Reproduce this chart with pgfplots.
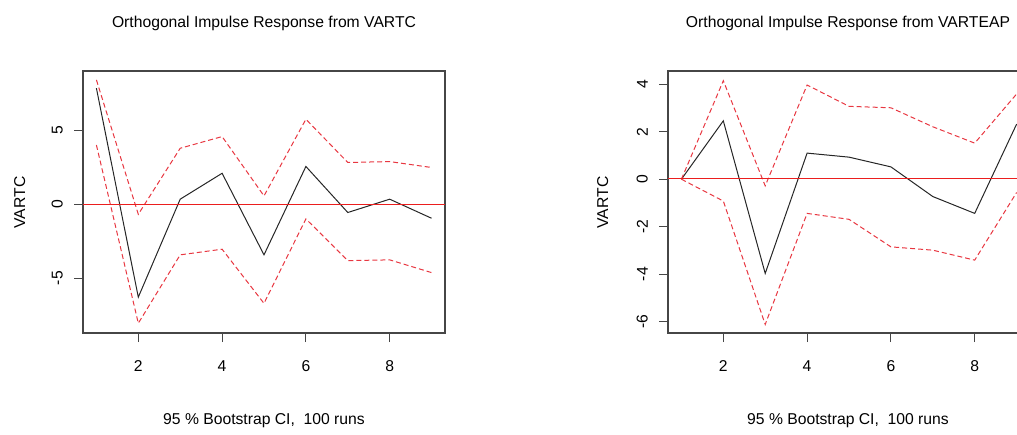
\documentclass[border=0pt]{standalone}
\usepackage{pgfplots}
\pgfplotsset{compat=1.18}
\usepackage{fontspec}
\setmainfont{Liberation Sans}
\definecolor{cired}{RGB}{232,55,65}
\definecolor{zred}{RGB}{235,30,30}
\definecolor{boxgray}{RGB}{70,70,70}
\newcommand{\rfont}{\fontsize{15.7}{18.8}\selectfont}

\pgfplotstableread{
x  irf    lo     hi
1  7.84   4.00   8.40
2 -6.28  -8.04  -0.68
3  0.34  -3.42   3.78
4  2.09  -3.04   4.57
5 -3.42  -6.70   0.56
6  2.55  -0.99   5.74
7 -0.56  -3.81   2.82
8  0.34  -3.76   2.88
9 -0.95  -4.62   2.48
}\leftdata

\pgfplotstableread{
x  irf    lo     hi
1  0.00   0.00   0.00
2  2.46  -0.92   4.15
3 -3.97  -6.12  -0.28
4  1.10  -1.44   3.97
5  0.93  -1.69   3.07
6  0.52  -2.85   3.01
7 -0.73  -2.99   2.21
8 -1.44  -3.41   1.52
9  2.32  -0.56   3.59
}\rightdata

\pgfplotsset{
  irf/.style={
    scale only axis, width=362pt, height=262pt,
    anchor=south west,
    xmin=0.68, xmax=9.32,
    xtick={2,4,6,8}, xticklabels={2,4,6,8},
    tick align=outside, major tick length=9pt,
    xtick pos=bottom, ytick pos=left,
    axis line style={boxgray, line width=1.1pt},
    every tick/.style={boxgray, line width=1.1pt},
    /pgf/number format/assume math mode=true,
    font=\rfont,
    xticklabel style={anchor=north, inner sep=0pt},
    xticklabel shift=18pt,
    yticklabel style={rotate=90, anchor=south, inner sep=0pt},
    yticklabel shift=11pt,
    clip=false,
  },
  irfline/.style={black!85, line width=1pt},
  ciline/.style={cired, line width=1pt, dash pattern=on 5pt off 3pt},
  zeroline/.style={draw=zred, line width=1.1pt, forget plot},
}

\begin{document}
\rfont
\begin{tikzpicture}[x=1pt,y=1pt]
\useasboundingbox (0,0) rectangle (1017,434);

% titles
\node[anchor=base, inner sep=0pt] at (264,406) {Orthogonal Impulse Response from VARTC};
\node[anchor=base, inner sep=0pt] at (848,406) {Orthogonal Impulse Response from VARTEAP};
% y labels
\node[anchor=base, rotate=90, inner sep=0pt] at (25,231.5) {VARTC};
\node[anchor=base, rotate=90, inner sep=0pt] at (608,231.5) {VARTC};
% x labels
\node[anchor=base, inner sep=0pt] at (264,10) {95 \% Bootstrap CI,\ \ 100 runs};
\node[anchor=base, inner sep=0pt] at (848,10) {95 \% Bootstrap CI,\ \ 100 runs};

% left panel
\begin{axis}[irf, at={(83pt,101pt)},
  ymin=-8.7, ymax=9.0,
  ytick={-5,0,5}, yticklabels={-5,0,5}]
  \addplot[irfline] table[x=x,y=irf] {\leftdata};
  \addplot[ciline] table[x=x,y=hi] {\leftdata};
  \addplot[ciline] table[x=x,y=lo] {\leftdata};
  \addplot[zeroline] coordinates {(0.68,0) (9.32,0)};
\end{axis}

\begin{scope}
\clip (0,0) rectangle (1017,434);
% right panel
\begin{axis}[irf, at={(668pt,101pt)},
  ymin=-6.48, ymax=4.56,
  ytick={-6,-4,-2,0,2,4}, yticklabels={-6,-4,-2,0,2,4}]
  \addplot[irfline] table[x=x,y=irf] {\rightdata};
  \addplot[ciline] table[x=x,y=hi] {\rightdata};
  \addplot[ciline] table[x=x,y=lo] {\rightdata};
  \addplot[zeroline] coordinates {(0.68,0.02) (9.32,0.02)};
\end{axis}
\end{scope}
\end{tikzpicture}
\end{document}
